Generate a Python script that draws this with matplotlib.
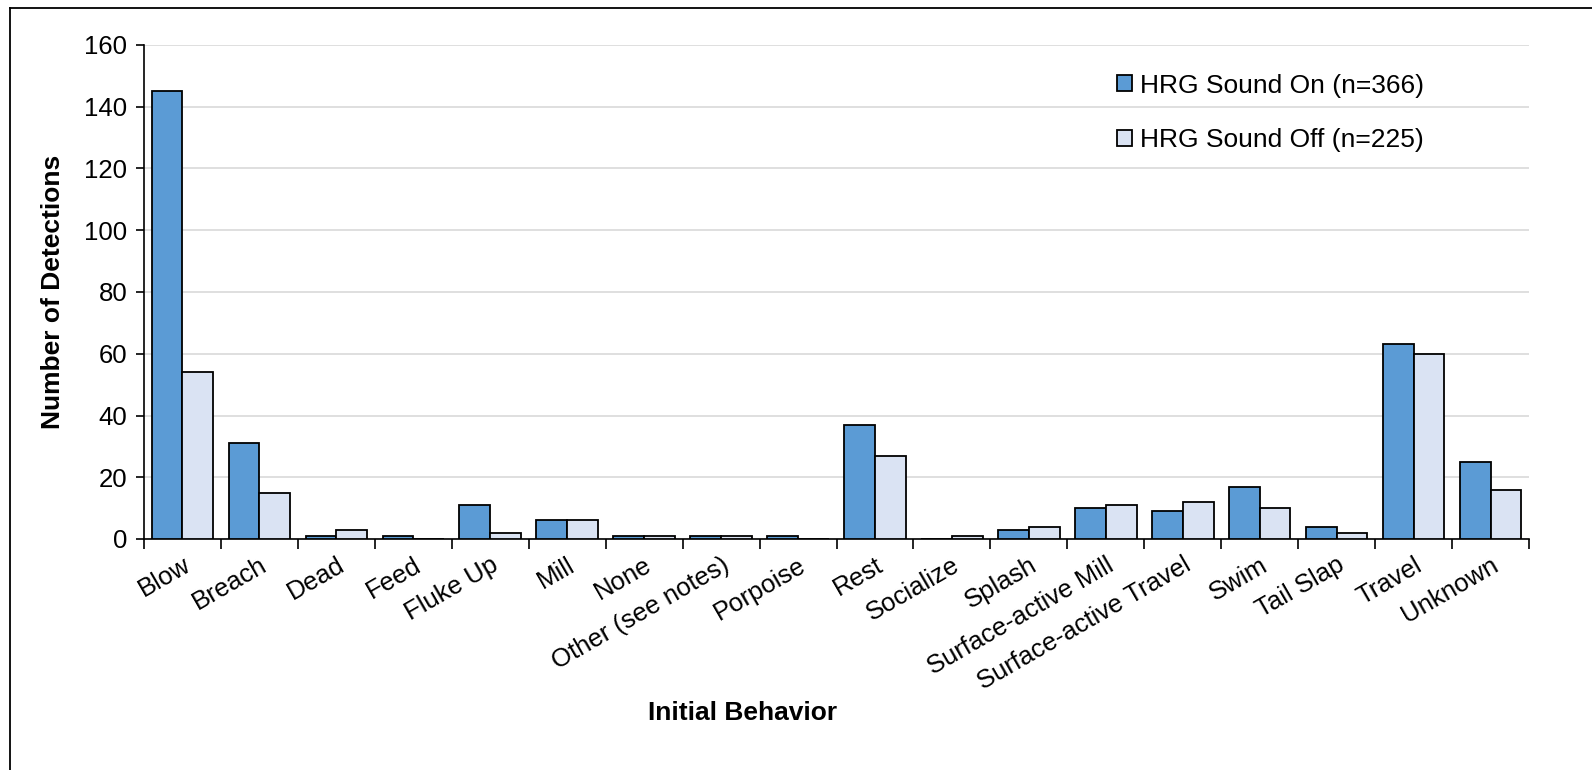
import matplotlib
matplotlib.use("Agg")
import matplotlib.pyplot as plt
from matplotlib.lines import Line2D
from matplotlib.patches import Patch
import numpy as np

plt.rcParams['font.family'] = ['Liberation Sans', 'DejaVu Sans']

categories = ["Blow", "Breach", "Dead", "Feed", "Fluke Up", "Mill", "None",
              "Other (see notes)", "Porpoise", "Rest", "Socialize", "Splash",
              "Surface-active Mill", "Surface-active Travel", "Swim",
              "Tail Slap", "Travel", "Unknown"]
sound_on = [145, 31, 1, 1, 11, 6, 1, 1, 1, 37, 0, 3, 10, 9, 17, 4, 63, 25]
sound_off = [54, 15, 3, 0, 2, 6, 1, 1, 0, 27, 1, 4, 11, 12, 10, 2, 60, 16]
series_labels = ["HRG Sound On (n=366)", "HRG Sound Off (n=225)"]
yticks = [0, 20, 40, 60, 80, 100, 120, 140, 160]

W, H = 1592, 770
fig = plt.figure(figsize=(W / 100, H / 100), dpi=100)
ax = fig.add_axes([144 / W, 1 - 539 / H, (1529 - 144) / W, (539 - 45) / H])

x = np.arange(len(categories))
bw = 0.4
c_on = "#5B9BD5"
c_off = "#DAE3F3"
ax.bar(x - bw / 2, sound_on, width=bw, color=c_on, edgecolor="black", linewidth=1.3, zorder=3)
ax.bar(x + bw / 2, sound_off, width=bw, color=c_off, edgecolor="black", linewidth=1.3, zorder=3)

ax.set_xlim(-0.5, len(categories) - 0.5)
ax.set_ylim(0, 160)
ax.set_yticks(yticks)
ax.tick_params(axis='y', labelsize=18.5, direction='out', length=6, width=1.2, pad=6)
ax.yaxis.grid(True, color="#D9D9D9", linewidth=1.2, zorder=0)
ax.set_axisbelow(True)

ax.set_xticks(x)
ax.set_xticklabels(categories, rotation=30, ha='right', va='top', rotation_mode='anchor', fontsize=18.5)
ax.tick_params(axis='x', which='major', length=0, pad=10)
ax.set_xticks(np.arange(len(categories) + 1) - 0.5, minor=True)
ax.tick_params(axis='x', which='minor', direction='out', length=7, width=1.2)

for s in ['top', 'right']:
    ax.spines[s].set_visible(False)
ax.spines['left'].set_linewidth(1.2)
ax.spines['bottom'].set_linewidth(1.2)

ax.set_ylabel("Number of Detections", fontsize=19, fontweight='bold')
ax.yaxis.set_label_coords(-0.057, 0.5)
ax.set_xlabel("Initial Behavior", fontsize=19, fontweight='bold')
ax.xaxis.set_label_coords(0.432, -0.328)

handles = [Patch(facecolor=c_on, edgecolor='black', linewidth=1.3),
           Patch(facecolor=c_off, edgecolor='black', linewidth=1.3)]
ax.legend(handles, series_labels, loc='upper right', bbox_to_anchor=(0.941, 0.99),
          frameon=False, fontsize=19, handlelength=0.55, handleheight=0.55,
          handletextpad=0.3, labelspacing=1.15)

# figure border (left and top visible)
fig.add_artist(Line2D([9.5 / W, 9.5 / W], [0, 1 - 7.5 / H], color='black', linewidth=1.3, transform=fig.transFigure))
fig.add_artist(Line2D([9.5 / W, 1], [1 - 7.5 / H, 1 - 7.5 / H], color='black', linewidth=1.3, transform=fig.transFigure))

fig.savefig("out.png", dpi=100)
